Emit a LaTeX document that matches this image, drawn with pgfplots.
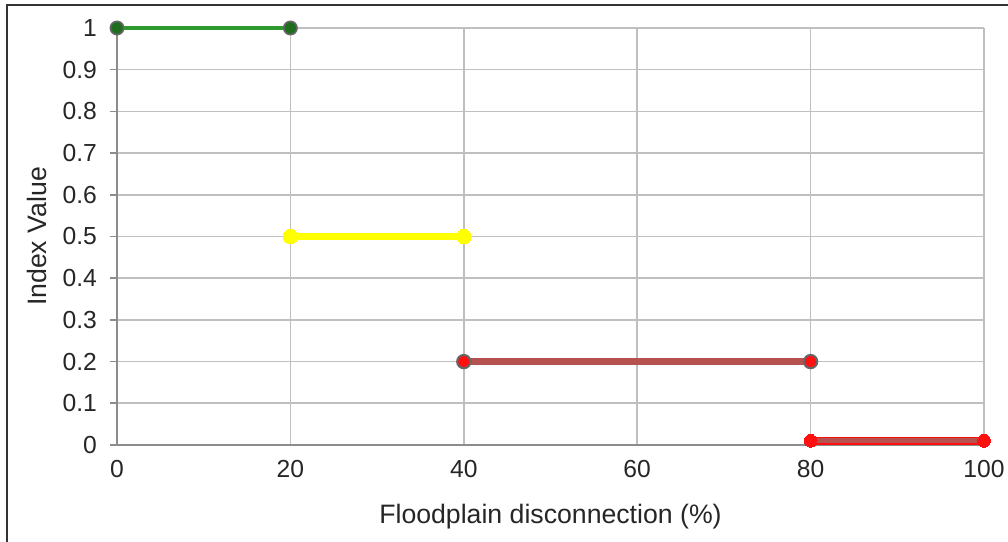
\documentclass[border=0pt]{standalone}
\usepackage{pgfplots}
\pgfplotsset{compat=1.18}
\usepackage{fontspec}
\setmainfont{Liberation Sans}
\definecolor{gridc}{HTML}{BFBFBF}
\definecolor{axc}{HTML}{8C8C8C}
\definecolor{grn}{HTML}{2E9A2E}
\definecolor{dgrn}{HTML}{1E6E1E}
\definecolor{edge}{HTML}{666666}
\definecolor{brn}{HTML}{B5524F}
\definecolor{yel}{HTML}{FFFF00}
\definecolor{rd}{HTML}{FF1010}
\begin{document}
\begin{tikzpicture}
\path[use as bounding box] (0,0) rectangle (756pt,406.5pt);
\draw[line width=1.5pt, black!80] (5.25pt,-2pt) -- (5.25pt,402.75pt) -- (760pt,402.75pt);
\begin{axis}[
  at={(87.75pt,72.75pt)}, anchor=origin,
  scale only axis, width=650.25pt, height=312.75pt,
  xmin=0, xmax=100, ymin=0, ymax=1,
  xtick={0,20,...,100}, ytick={0,0.1,...,1},
  yticklabels={0,0.1,0.2,0.3,0.4,0.5,0.6,0.7,0.8,0.9,1},
  /pgf/number format/assume math mode=true,
  ticklabel style={font=\fontsize{18.5}{20}\selectfont, text=black!85},
  yticklabel style={xshift=-6.5pt},
  xticklabel style={yshift=-8pt},
  grid=major, major grid style={gridc, line width=1.2pt},
  axis line style={axc, line width=1.5pt},
  axis x line*=bottom, axis y line*=left,
  tick style={axc, line width=1.2pt},
  ytick align=outside, xtick style={draw=none},
  major tick length=5pt,
  clip=false,
  xlabel={Floodplain disconnection (\%)},
  ylabel={Index Value},
  label style={font=\fontsize{20}{22}\selectfont, text=black!85},
  xlabel style={at={(0.5,0)}, anchor=center, yshift=-54pt},
  ylabel style={at={(0,0.5)}, anchor=center, yshift=60pt},
]
\addplot[grn, line width=3pt, mark=*, mark size=5pt, mark options={fill=dgrn, draw=edge, line width=1.2pt}] coordinates {(0,1) (20,1)};
\addplot[yel, line width=5pt, mark=*, mark size=5.5pt, mark options={fill=yel, draw=yel, line width=0pt}] coordinates {(20,0.5) (40,0.5)};
\addplot[brn, line width=5pt, mark=*, mark size=5pt, mark options={fill=rd, draw=edge, line width=1.5pt}] coordinates {(40,0.2) (80,0.2)};
\addplot[rd, line width=6pt, mark=*, mark size=4.8pt, mark options={fill=rd, draw=rd, line width=0pt}] coordinates {(80,0.01) (100,0.01)};
\addplot[brn, line width=3.5pt] coordinates {(80,0.01) (100,0.01)};
\end{axis}
\end{tikzpicture}
\end{document}
